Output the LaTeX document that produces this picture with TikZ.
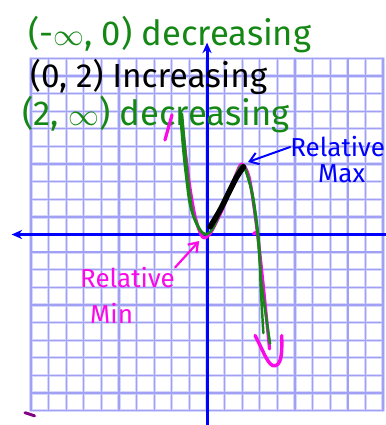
\documentclass[tikz,border=0pt]{standalone}
\usepackage{fontspec}
\setmainfont{Fira Sans}
\usetikzlibrary{arrows.meta}
\definecolor{gridline}{RGB}{160,160,245}
\definecolor{gridhalo}{RGB}{215,215,252}
\definecolor{pengreen}{RGB}{20,135,20}
\definecolor{penpink}{RGB}{250,10,230}
\definecolor{penblue}{RGB}{0,0,255}
\definecolor{penpurple}{RGB}{130,0,130}
\begin{document}
\begin{tikzpicture}[x=0.5cm, y=0.5cm, line join=round, line cap=round,
		>={Straight Barb[length=2.4mm,width=3.4mm]},
		hand/.style={font=\fontsize{28}{31}\selectfont, inner sep=0pt, anchor=west},
		note/.style={font=\fontsize{21}{24}\selectfont, inner sep=0pt, anchor=west},
		stroke/.style={line width=2pt, smooth}]
	\useasboundingbox (-11.76,-10.82) rectangle (10.11,13.32);
	
	% Lưới ô vuông
	\draw[gridhalo, line width=2.6pt, step=0.5cm] (-10,-10) grid (10,10);
	\draw[gridline, line width=1pt, step=0.5cm] (-10,-10) grid (10,10);
	
	% Trục tọa độ
	\draw[penblue, line width=2.4pt, line cap=butt, <-, >={Stealth[length=3mm,width=2.6mm]}] (-11.1,0) -- (10.3,0);
	\draw[penblue, line width=2.4pt, line cap=butt, ->, >={Stealth[length=3mm,width=2.6mm]}] (0,-11) -- (0,10.9);
	
	% Các khoảng đơn điệu
	\node[hand, text=pengreen] (decleft) at (-10.17,11.34) {(-$\infty$, 0) decreasing};
	\node[hand, font=\fontsize{27}{30}\selectfont] (incmid) at (-10.06,8.95) {(0, 2) Increasing};
	\node[hand, text=pengreen] (decright) at (-10.5,6.79) {(2, $\infty$) decreasing};
	
	% Nét hồng bên dưới
	\draw[penpink, line width=2.6pt] (-2.39,5.37) -- (-1.99,6.79);
	\draw[penpink, stroke, line width=2.6pt] plot coordinates {(-1.45,6.6) (-1.2,4.4) (-0.95,2.5) (-0.65,0.9) (-0.25,-0.15) (0.2,0.1) (0.9,1.5) (1.6,3.3) (1.98,4.0) (2.4,3.2) (2.8,0.6) (3.15,-2.5) (3.55,-6.5)};
	\draw[penpink, line width=3pt] (2.65,0.05) -- (2.8,0.1);
	
	% Đồ thị
	\draw[pengreen, stroke] plot coordinates {(-1.53,6.9) (-1.35,4.8) (-1.2,3.4) (-0.97,1.7) (-0.6,0.6) (-0.15,0.02) (0.3,0.3) (0.9,1.6) (1.5,3.1) (2.05,3.95) (2.5,2.6) (2.85,0.2) (3.1,-2.8) (3.58,-6.2)};
	\draw[pengreen, stroke] plot coordinates {(-1.42,6.85) (-1.22,4.5) (-1.05,2.8) (-0.8,1.2) (-0.35,0.2) (0,0)};
	\draw[pengreen, stroke] plot coordinates {(2.1,3.9) (2.6,2.2) (2.95,-0.5) (3.05,-3) (3.2,-5.6)};
	\draw[black, line width=4.5pt, smooth] plot coordinates {(0.17,0.43) (0.74,1.39) (1.31,2.53) (1.69,3.27) (2.07,3.84)};
	
	% Mũi tên cuối nhánh phải
	\draw[penpink, line width=2.8pt] (2.73,-5.74) .. controls (3.2,-6.6) and (3.5,-7.6) .. (3.9,-7.45) .. controls (4.3,-7.3) and (4.25,-6.4) .. (4.24,-5.74);
	
	% Cực tiểu, cực đại
	\coordinate (minpt) at (-0.45,-0.37);
	\coordinate (maxpt) at (2.33,4.12);
	\node[note, text=penpink] (minrel) at (-7.22,-2.47) {Relative};
	\node[note, text=penpink] (minmin) at (-6.65,-4.5) {Min};
	\node[note, text=penblue] (maxrel) at (4.72,4.97) {Relative};
	\node[note, text=penblue] (maxmax) at (6.3,3.44) {Max};
	\draw[penpink, line width=1.8pt, ->] (minrel.north east) -- (minpt);
	\draw[penblue, line width=1.6pt, ->] (maxrel.west) -- (maxpt);
	
	% Vết mực
	\draw[penpurple, line width=2.4pt] (-10.34,-10.12) -- (-9.8,-10.3);
\end{tikzpicture}
\end{document}
